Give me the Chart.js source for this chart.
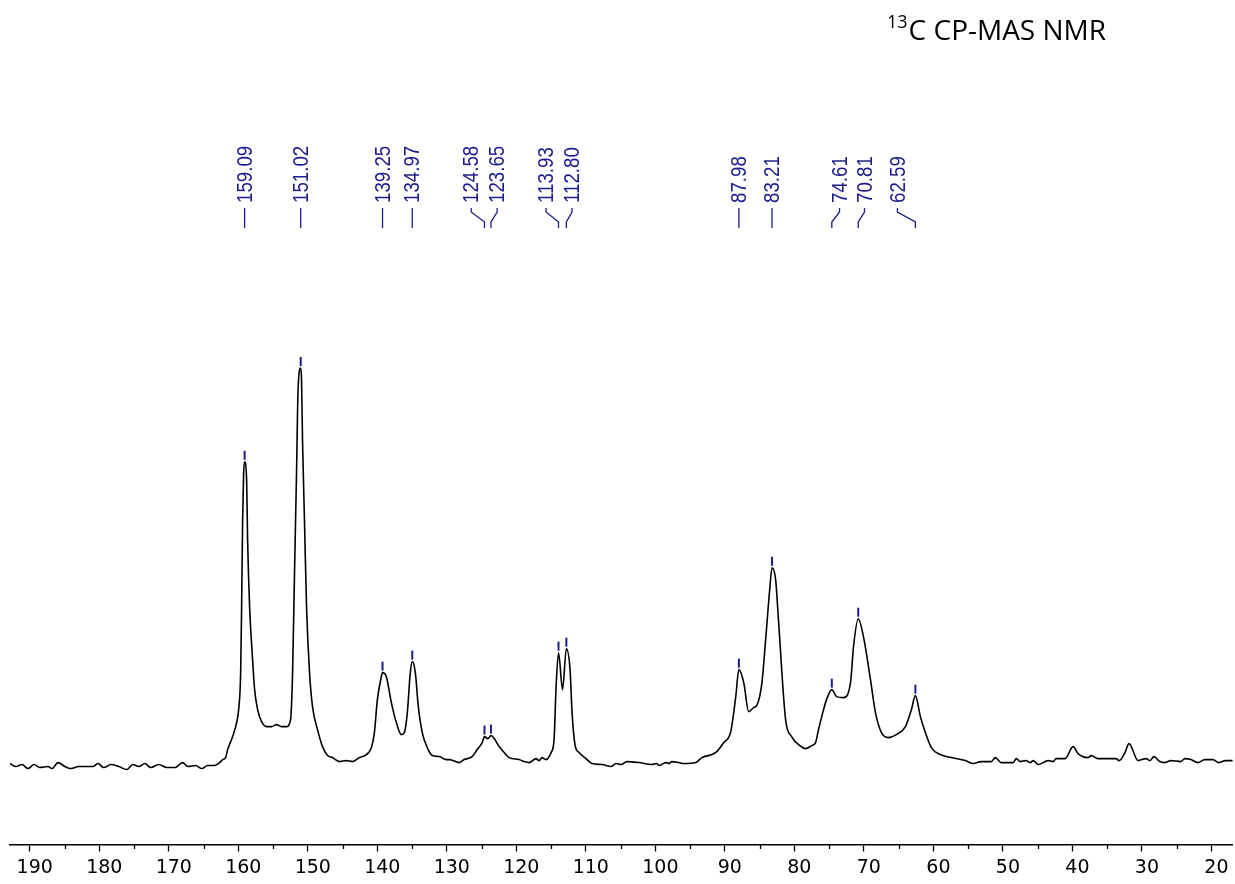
<!DOCTYPE html>
<html>
<head>
<meta charset="utf-8">
<title>13C CP-MAS NMR</title>
<script src="https://cdn.jsdelivr.net/npm/chart.js@4"></script>
<style>
  html, body { margin: 0; padding: 0; background: #ffffff; }
</style>
</head>
<body>
<canvas id="espectro" width="1235" height="884"></canvas>
<script>

const desplazamiento = [
  192.83, 191.97, 191.11, 190.25, 189.39, 188.53, 187.38, 186.80, 185.94, 184.94,
  184.07, 182.93, 180.91, 180.20, 179.34, 178.33, 177.18, 176.03, 175.17, 174.31,
  173.45, 172.59, 171.44, 170.29, 169.14, 167.99, 167.27, 166.12, 165.26, 164.40,
  163.54, 162.68, 162.25, 161.82, 161.53, 160.81, 160.24, 159.95, 159.66, 159.52,
  159.38, 159.23, 159.09, 158.80, 158.66, 158.37, 157.94, 157.65, 157.22, 156.65,
  155.93, 155.21, 154.49, 153.77, 153.06, 152.48, 152.19, 151.91, 151.62, 151.40,
  151.02, 150.90, 150.76, 150.47, 150.18, 149.75, 149.32, 148.60, 147.88, 147.16,
  146.45, 145.44, 144.44, 143.58, 142.57, 141.57, 140.85, 140.42, 139.99, 139.42,
  139.25, 138.70, 137.98, 137.26, 136.55, 136.11, 135.68, 135.25, 134.97, 134.53,
  134.10, 133.53, 132.81, 132.09, 131.09, 130.08, 129.65, 128.21, 127.50, 126.35,
  125.63, 124.91, 124.58, 124.10, 123.65, 122.47, 121.75, 121.03, 119.60, 118.88,
  118.16, 117.16, 116.73, 116.30, 115.72, 115.00, 114.57, 114.28, 113.93, 113.35,
  112.80, 112.27, 111.98, 111.56, 110.98, 109.98, 109.11, 107.68, 106.38, 105.67,
  104.95, 104.09, 102.37, 100.50, 99.78, 99.49, 98.49, 98.06, 97.63, 96.62,
  95.90, 94.18, 93.31, 91.88, 91.16, 90.16, 89.15, 88.43, 87.98, 87.28,
  86.57, 85.85, 85.42, 84.70, 84.13, 83.55, 83.21, 82.69, 82.26, 81.26,
  80.40, 79.39, 78.38, 77.52, 76.95, 76.52, 75.80, 75.37, 74.61, 73.93,
  72.93, 71.92, 71.49, 70.81, 70.06, 69.05, 68.33, 67.47, 66.47, 65.32,
  64.02, 63.16, 62.59, 61.87, 61.15, 60.29, 59.00, 57.42, 55.41, 54.26,
  53.11, 51.67, 51.10, 50.24, 48.51, 48.08, 47.51, 46.65, 46.07, 45.64,
  44.92, 43.49, 42.77, 42.34, 41.05, 39.90, 39.18, 37.74, 37.31, 36.31,
  33.72, 33.29, 32.43, 31.86, 30.56, 29.41, 28.84, 28.27, 27.41, 26.69,
  25.83, 24.39, 23.82, 22.96, 21.95, 20.95, 19.80, 18.94, 17.93, 16.93
];
const intensidad = [
  3, 0, 2, -2, 2, -1, 0, -2, 4, 0,
  -2, 0, 0, 3, -1, 2, 0, -3, 2, 0,
  3, -1, 2, -1, -1, 4, 0, 1, -2, 1,
  1, 4, 7, 9, 17, 30, 44, 57, 94, 160,
  244, 294, 305, 287, 227, 160, 107, 77, 57, 45,
  40, 40, 42, 40, 40, 47, 94, 194, 294, 377,
  399, 387, 327, 244, 160, 94, 60, 37, 20, 11,
  9, 5, 6, 5, 9, 12, 19, 34, 67, 90,
  94, 90, 64, 44, 32, 34, 54, 94, 105, 94,
  60, 34, 19, 11, 10, 7, 7, 4, 7, 10,
  17, 24, 30, 28, 31, 20, 14, 9, 7, 5,
  4, 8, 6, 9, 7, 14, 27, 80, 114, 77,
  118, 97, 54, 22, 14, 8, 3, 2, 0, 3,
  2, 5, 4, 2, 3, 1, 4, 3, 5, 4,
  3, 4, 9, 12, 15, 24, 35, 70, 97, 84,
  55, 59, 61, 82, 127, 177, 199, 187, 144, 47,
  30, 22, 18, 21, 24, 37, 57, 67, 77, 70,
  69, 84, 120, 148, 130, 87, 54, 34, 29, 32,
  40, 57, 71, 50, 34, 19, 12, 9, 6, 3,
  5, 5, 9, 4, 4, 8, 5, 6, 4, 6,
  2, 6, 5, 8, 8, 20, 13, 9, 11, 8,
  8, 6, 14, 23, 6, 8, 6, 10, 5, 4,
  6, 5, 8, 7, 4, 7, 7, 4, 6, 6
];

// picos marcados y donde queda su etiqueta (ppm)
const picosPpm   = [159.09, 151.02, 139.25, 134.97, 124.58, 123.65, 113.93, 112.80, 87.98, 83.21, 74.61, 70.81, 62.59];
const picosTexto = ['159.09', '151.02', '139.25', '134.97', '124.58', '123.65', '113.93', '112.80', '87.98', '83.21', '74.61', '70.81', '62.59'];
const etiquetaPpm = [159.09, 151.02, 139.25, 134.97, 126.49, 122.76, 115.72, 111.99, 87.98, 83.21, 73.50, 69.91, 65.17];

const titulo = ['13', 'C CP-MAS NMR'];
const AZUL = '#1c1c8c';

const puntos = desplazamiento.map((p, i) => ({ x: p, y: intensidad[i] }));

function indiceCercano(ppm) {
    let mejor = 0;
    desplazamiento.forEach((p, i) => {
        if (Math.abs(p - ppm) < Math.abs(desplazamiento[mejor] - ppm)) mejor = i;
    });
    return mejor;
}

// titulo con superindice
const pluginTitulo = {
    id: 'pluginTitulo',
    afterDraw(chart) {
        const { ctx } = chart;
        ctx.save();
        ctx.fillStyle = '#000';
        ctx.textBaseline = 'alphabetic';
        ctx.font = '18px "Open Sans"';
        ctx.fillText(titulo[0], 887, 28);
        const w = ctx.measureText(titulo[0]).width;
        ctx.font = '28px "Open Sans"';
        ctx.fillText(titulo[1], 887 + w + 1, 40);
        ctx.restore();
    }
};

// marcas menores del eje (cada 5 ppm)
const pluginMenores = {
    id: 'pluginMenores',
    afterDraw(chart) {
        const { ctx, chartArea } = chart;
        const xs = chart.scales.x;
        ctx.save();
        ctx.strokeStyle = '#000';
        ctx.lineWidth = 1.3;
        for (let v = 25; v < 192; v += 10) {
            const px = Math.round(xs.getPixelForValue(v)) + 0.5;
            ctx.beginPath();
            ctx.moveTo(px, chartArea.bottom);
            ctx.lineTo(px, chartArea.bottom + 4.5);
            ctx.stroke();
        }
        ctx.restore();
    }
};

// etiquetas de picos giradas y sus conectores
const pluginPicos = {
    id: 'pluginPicos',
    afterDatasetsDraw(chart) {
        const { ctx } = chart;
        const xs = chart.scales.x, ys = chart.scales.y;
        ctx.save();
        ctx.strokeStyle = AZUL;
        ctx.fillStyle = AZUL;
        picosPpm.forEach((ppm, i) => {
            const xp = xs.getPixelForValue(ppm);
            const xl = xs.getPixelForValue(etiquetaPpm[i]);
            const yp = ys.getPixelForValue(intensidad[indiceCercano(ppm)]);

            ctx.lineWidth = 2;
            ctx.beginPath();
            ctx.moveTo(xp, yp - 2);
            ctx.lineTo(xp, yp - 11);
            ctx.stroke();

            ctx.lineWidth = 1.3;
            ctx.beginPath();
            ctx.moveTo(xl, 208);
            if (Math.abs(xl - xp) < 1) {
                ctx.lineTo(xp, 228);
            } else {
                ctx.lineTo(xl, 212);
                ctx.lineTo(xp, 222);
                ctx.lineTo(xp, 228);
            }
            ctx.stroke();

            ctx.save();
            ctx.translate(xl, 203);
            ctx.rotate(-Math.PI / 2);
            ctx.scale(0.85, 1);
            ctx.font = '22px "Liberation Sans"';
            ctx.textAlign = 'left';
            ctx.textBaseline = 'middle';
            ctx.fillText(picosTexto[i], 0, 1);
            ctx.restore();
        });
        ctx.restore();
    }
};

const ctx = document.getElementById('espectro');

new Chart(ctx, {
    type: 'line',
    data: {
        datasets: [{
            data: puntos,
            borderColor: '#000000',
            borderWidth: 1.6,
            pointRadius: 0,
            fill: false,
            cubicInterpolationMode: 'monotone'
        }]
    },
    options: {
        responsive: false,
        devicePixelRatio: 1,
        animation: false,
        layout: { padding: { left: 10, right: 0, top: 300, bottom: 0 } },
        plugins: {
            legend: { display: false },
            tooltip: { enabled: false }
        },
        scales: {
            x: {
                type: 'linear',
                reverse: true,
                min: 16.93,
                max: 192.83,
                border: { display: true, color: '#000', width: 1.5 },
                grid: { display: true, drawOnChartArea: false, drawTicks: true, tickLength: 7, tickColor: '#000', tickWidth: 1.3 },
                ticks: {
                    stepSize: 10,
                    includeBounds: false,
                    autoSkip: false,
                    maxRotation: 0,
                    labelOffset: 5,
                    padding: 11.5,
                    color: '#000',
                    font: { family: 'DejaVu Sans', size: 19, lineHeight: 0.5 }
                }
            },
            y: {
                display: false,
                min: -78,
                max: 467
            }
        }
    },
    plugins: [pluginPicos, pluginMenores, pluginTitulo]
});
</script>
</body>
</html>
